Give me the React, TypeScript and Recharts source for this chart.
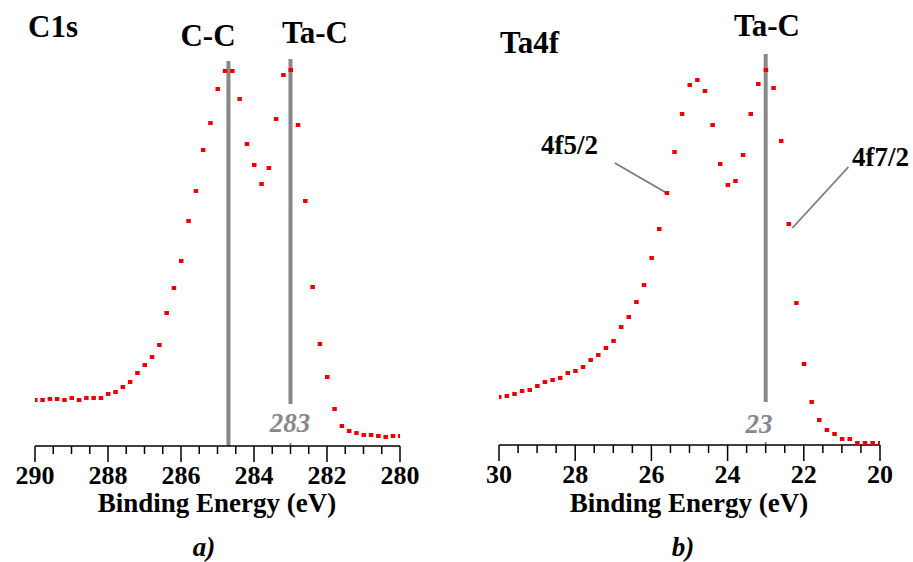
import { ReferenceLine, Scatter, ScatterChart, XAxis, YAxis } from "recharts";

// C1s spectrum (binding energy, eV) and intensity (arb. units)
const c1sEnergy = [
  290.0, 289.8, 289.6, 289.4, 289.2, 289.0, 288.8, 288.6, 288.4, 288.2, 288.0, 287.8, 287.6,
  287.4, 287.2, 287.0, 286.8, 286.6, 286.4, 286.2, 286.0, 285.8, 285.6, 285.4, 285.2, 285.0,
  284.8, 284.6, 284.4, 284.2, 284.0, 283.8, 283.6, 283.4, 283.2, 283.0, 282.8, 282.6, 282.4,
  282.2, 282.0, 281.8, 281.6, 281.4, 281.2, 281.0, 280.8, 280.6, 280.4, 280.2, 280.0,
];
const c1sIntensity = [
  46, 46, 47, 47, 46, 48, 46, 48, 48, 48, 52, 54, 59, 64, 73, 81, 89, 101, 133, 158, 185, 225,
  255, 296, 323, 357, 375, 375, 347, 302, 281, 262, 278, 327, 371, 376, 321, 245, 159, 102, 69,
  37, 20, 15, 13, 11, 11, 10, 9, 10, 10,
];

// Ta4f spectrum
const ta4fEnergy = [
  30.0, 29.8, 29.6, 29.4, 29.2, 29.0, 28.8, 28.6, 28.4, 28.2, 28.0, 27.8, 27.6, 27.4, 27.2,
  27.0, 26.8, 26.6, 26.4, 26.2, 26.0, 25.8, 25.6, 25.4, 25.2, 25.0, 24.8, 24.6, 24.4, 24.2,
  24.0, 23.8, 23.6, 23.4, 23.2, 23.0, 22.8, 22.6, 22.4, 22.2, 22.0, 21.8, 21.6, 21.4, 21.2,
  21.0, 20.8, 20.6, 20.4, 20.2, 20.0,
];
const ta4fIntensity = [
  48, 49, 51, 54, 55, 59, 63, 65, 67, 72, 74, 78, 85, 90, 97, 104, 118, 128, 143, 160, 187, 216,
  252, 293, 331, 360, 365, 354, 320, 281, 260, 264, 290, 331, 361, 375, 357, 304, 221, 142, 81,
  43, 25, 15, 11, 6, 6, 2, 2, 2, 2,
];

const c1sTicks = [
  290, 289.5, 289, 288.5, 288, 287.5, 287, 286.5, 286, 285.5, 285, 284.5, 284, 283.5, 283, 282.5,
  282, 281.5, 281, 280.5, 280,
];
const ta4fTicks = [
  30, 29.5, 29, 28.5, 28, 27.5, 27, 26.5, 26, 25.5, 25, 24.5, 24, 23.5, 23, 22.5, 22, 21.5, 21,
  20.5, 20,
];

const c1sData = c1sEnergy.map((e, i) => ({ e, v: c1sIntensity[i] }));
const ta4fData = ta4fEnergy.map((e, i) => ({ e, v: ta4fIntensity[i] }));

const SERIF = '"Liberation Serif", serif';
const RED = "#ee0000";
const LINE_GRAY = "#888888";
const serifBold = { fontFamily: SERIF, fontWeight: 700 };

function Square(props: any) {
  const { cx, cy } = props;
  if (cx == null || cy == null) return null;
  return <rect x={cx - 2} y={cy - 2} width={4.5} height={4} fill={RED} />;
}

function EnergyTick(props: any) {
  const { x, y, payload } = props;
  const val = payload.value as number;
  const major = Number.isInteger(val) && val % 2 === 0;
  return (
    <g>
      <line x1={x} x2={x} y1={y} y2={y + (major ? 16 : 8)} stroke="#000" strokeWidth={1.5} />
      {major && (
        <text x={x} y={y + 38} textAnchor="middle" style={{ ...serifBold, fontSize: 26 }} fill="#000">
          {val}
        </text>
      )}
    </g>
  );
}

const chartStyle = { position: "absolute" as const, left: 0, top: 0 };

function T({ x, y, size, anchor, italic, fill, children }: any) {
  return (
    <text
      x={x}
      y={y}
      textAnchor={anchor ?? "start"}
      fill={fill ?? "#000"}
      style={{ ...serifBold, fontSize: size, fontStyle: italic ? "italic" : "normal" }}
    >
      {children}
    </text>
  );
}

export default function App() {
  return (
    <div style={{ position: "absolute", left: 0, top: 0, width: 913, height: 562, background: "#fff" }}>
      <ScatterChart
        width={913}
        height={562}
        style={chartStyle}
        margin={{ top: 46, right: 513, left: 35, bottom: 0 }}
      >
        <XAxis
          type="number"
          dataKey="e"
          domain={[280, 290]}
          reversed
          ticks={c1sTicks}
          interval={0}
          height={116}
          tickSize={0}
          tickMargin={0}
          tick={<EnergyTick />}
          axisLine={{ stroke: "#000", strokeWidth: 1.5 }}
          tickLine={false}
          allowDataOverflow
        />
        <YAxis type="number" dataKey="v" domain={[0, 400]} hide />
        <Scatter data={c1sData} shape={<Square />} isAnimationActive={false} />
        <ReferenceLine
          segment={[{ x: 284.7, y: 0 }, { x: 284.7, y: 385 }]}
          stroke={LINE_GRAY}
          strokeWidth={4}
        />
        <ReferenceLine
          segment={[{ x: 283, y: 42 }, { x: 283, y: 387 }]}
          stroke={LINE_GRAY}
          strokeWidth={4}
        />
        <ReferenceLine
          segment={[{ x: 283, y: 0 }, { x: 283, y: 3 }]}
          stroke={LINE_GRAY}
          strokeWidth={2}
        />
      </ScatterChart>

      <ScatterChart
        width={913}
        height={562}
        style={chartStyle}
        margin={{ top: 45, right: 33, left: 499, bottom: 0 }}
      >
        <XAxis
          type="number"
          dataKey="e"
          domain={[20, 30]}
          reversed
          ticks={ta4fTicks}
          interval={0}
          height={117}
          tickSize={0}
          tickMargin={0}
          tick={<EnergyTick />}
          axisLine={{ stroke: "#000", strokeWidth: 1.5 }}
          tickLine={false}
          allowDataOverflow
        />
        <YAxis type="number" dataKey="v" domain={[0, 400]} hide />
        <Scatter data={ta4fData} shape={<Square />} isAnimationActive={false} />
        <ReferenceLine
          segment={[{ x: 23, y: 43 }, { x: 23, y: 391 }]}
          stroke={LINE_GRAY}
          strokeWidth={4}
        />
        <ReferenceLine
          segment={[{ x: 23, y: 0 }, { x: 23, y: 3 }]}
          stroke={LINE_GRAY}
          strokeWidth={2}
        />
        <ReferenceLine
          segment={[{ x: 26.96, y: 282 }, { x: 25.6, y: 252 }]}
          stroke="#7a7a7a"
          strokeWidth={1.8}
        />
        <ReferenceLine
          segment={[{ x: 20.83, y: 278 }, { x: 22.3, y: 217 }]}
          stroke="#7a7a7a"
          strokeWidth={1.8}
        />
      </ScatterChart>

      <svg
        width={913}
        height={562}
        style={{ position: "absolute", left: 0, top: 0, pointerEvents: "none" }}
      >
        <T x={28} y={37} size={31}>C1s</T>
        <T x={208} y={46} size={31} anchor="middle">C-C</T>
        <T x={315} y={43} size={31} anchor="middle">Ta-C</T>
        <T x={500} y={53} size={31}>Ta4f</T>
        <T x={767} y={36} size={31} anchor="middle">Ta-C</T>
        <T x={541} y={154} size={27}>4f5/2</T>
        <T x={852} y={166} size={27}>4f7/2</T>
        <T x={290} y={432} size={27} italic fill="#888" anchor="middle">283</T>
        <T x={759} y={433} size={27} italic fill="#888" anchor="middle">23</T>
        <T x={217} y={512} size={27} anchor="middle">Binding Energy (eV)</T>
        <T x={689} y={512} size={27} anchor="middle">Binding Energy (eV)</T>
        <T x={204} y={556} size={27} italic anchor="middle">a)</T>
        <T x={683} y={556} size={27} italic anchor="middle">b)</T>
      </svg>
    </div>
  );
}
